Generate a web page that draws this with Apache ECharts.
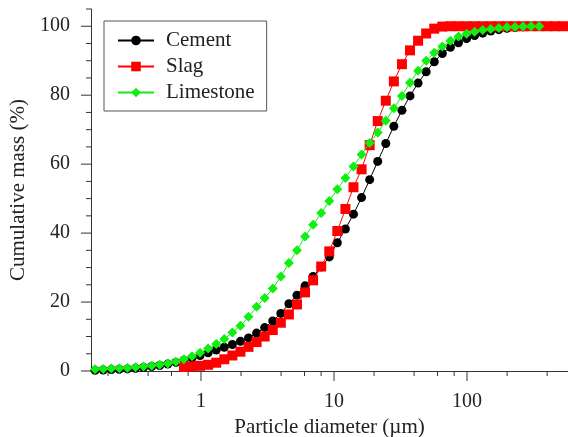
<!DOCTYPE html>
<html>
<head>
<meta charset="utf-8">
<script src="https://cdn.jsdelivr.net/npm/echarts@6/dist/echarts.min.js"></script>
<style>
html,body{margin:0;padding:0;background:#fff;}
#chart{width:568px;height:437px;}
</style>
</head>
<body>
<div id="chart"></div>
<script>
// Particle diameters (µm)
var diameters = [0.160,0.184,0.212,0.243,0.280,0.322,0.370,0.426,0.489,0.563,
  0.647,0.744,0.856,0.984,1.132,1.302,1.497,1.722,1.980,2.277,
  2.619,3.011,3.463,3.983,4.580,5.267,6.057,6.966,8.011,9.212,
  10.59,12.18,14.01,16.11,18.53,21.31,24.51,28.18,32.41,37.27,
  42.86,49.29,56.69,65.19,74.97,86.21,99.14,114.0,131.1,150.8,
  173.4,199.4,229.4,263.8,303.3,348.8,401.2,461.4,530.6,610.2];

// Cumulative mass (%)
var cement = [0.2,0.3,0.4,0.5,0.6,0.8,1.0,1.3,1.6,2.0,
  2.5,3.1,3.8,4.5,5.3,6.1,6.9,7.7,8.6,9.6,
  11.0,12.6,14.5,16.7,19.5,22.0,24.7,27.4,30.2,33.1,
  37.2,41.2,45.5,50.3,55.5,60.8,66.0,71.0,75.6,79.8,
  83.5,86.8,89.7,92.1,93.9,95.2,96.4,97.3,98.0,98.6,
  99.0,99.4,99.6,99.8,99.9,100];

var slag = [null,null,null,null,null,null,null,null,null,null,
  null,1.2,1.3,1.5,1.8,2.4,3.4,4.5,5.6,7.0,
  8.4,10.0,11.9,14.0,16.4,19.3,22.8,26.3,30.3,34.7,
  40.6,47.0,53.3,58.5,65.5,72.5,78.4,84.0,89.0,93.0,
  95.8,97.9,99.3,99.9,100,100,100,100,100,100,
  100,100,100,100,100,100,100,100,100,100];

var limestone = [0.5,0.6,0.7,0.8,0.9,1.1,1.3,1.5,1.8,2.2,
  2.7,3.4,4.3,5.3,6.5,7.8,9.3,11.2,13.1,15.7,
  18.6,21.2,23.9,27.4,31.3,35.0,39.0,42.4,45.8,49.3,
  52.7,56.0,59.3,62.8,66.1,69.2,72.6,76.2,79.8,83.6,
  87.1,90.0,92.3,94.1,95.8,97.0,97.8,98.4,98.9,99.2,
  99.5,99.7,99.8,99.9,100,100];

var seriesNames = ['Cement', 'Slag', 'Limestone'];

// Axis ticks
var xMajorTicks = [1, 10, 100];
var xMinorTicks = [0.2,0.4,0.6,0.8,2,4,6,8,20,40,60,80,200,400];
var yMajorTicks = [0,20,40,60,80,100];
var yMinorTicks = [5,10,15,25,30,35,45,50,55,65,70,75,85,90,95,105];

var xMin = 0.149, xMax = 574;
var yMin = 0, yMax = 105;

var FONT = '"Liberation Serif", "Times New Roman", serif';
var AX = '#333';

function pairs(vals) {
  var out = [];
  for (var i = 0; i < vals.length; i++) {
    if (vals[i] !== null && vals[i] !== undefined) out.push([diameters[i], vals[i]]);
  }
  return out;
}

function tickSeries(values, dir, len) {
  return {
    type: 'custom',
    silent: true,
    z: 1,
    clip: false,
    data: values.map(function (v) { return dir === 'x' ? [v, yMin] : [xMin, v]; }),
    renderItem: function (params, api) {
      var p = api.coord([api.value(0), api.value(1)]);
      var shape = dir === 'x'
        ? { x1: p[0], y1: p[1], x2: p[0], y2: p[1] + len }
        : { x1: p[0] - len, y1: p[1], x2: p[0], y2: p[1] };
      return { type: 'line', shape: shape, style: { stroke: AX, lineWidth: 1 } };
    }
  };
}

var chart = echarts.init(document.getElementById('chart'), null, { renderer: 'canvas' });
chart.setOption({
  animation: false,
  backgroundColor: '#fff',
  textStyle: { fontFamily: FONT },
  grid: { left: 91, right: 0, top: 9, bottom: 66, containLabel: false, outerBoundsMode: 'none' },
  legend: {
    data: seriesNames,
    orient: 'vertical',
    left: 104,
    top: 21,
    itemWidth: 36,
    itemHeight: 12,
    itemGap: 5,
    padding: [9, 12, 8, 13],
    borderColor: '#555',
    borderWidth: 1,
    textStyle: { fontFamily: FONT, fontSize: 21, color: '#222', lineHeight: 20, padding: [0, 0, 0, 7] }
  },
  xAxis: {
    type: 'log',
    logBase: 10,
    min: xMin,
    max: xMax,
    name: 'Particle diameter (\u00b5m)',
    nameLocation: 'middle',
    nameGap: 40,
    nameTextStyle: { fontFamily: FONT, fontSize: 21, color: '#222' },
    axisLine: { lineStyle: { color: AX, width: 1 } },
    axisTick: { show: false },
    splitLine: { show: false },
    axisLabel: {
      fontFamily: FONT, fontSize: 20, color: '#222', margin: 21,
      formatter: function (v) {
        var l = Math.log10(v);
        return Math.abs(l - Math.round(l)) < 1e-6 ? String(Math.round(Math.pow(10, Math.round(l)))) : '';
      }
    }
  },
  yAxis: {
    type: 'value',
    min: yMin,
    max: yMax,
    interval: 20,
    name: 'Cumulative mass (%)',
    nameLocation: 'middle',
    nameGap: 50,
    nameTextStyle: { fontFamily: FONT, fontSize: 21, color: '#222' },
    axisLine: { show: true, lineStyle: { color: AX, width: 1 } },
    axisTick: { show: false },
    splitLine: { show: false },
    axisLabel: {
      fontFamily: FONT, fontSize: 20, color: '#222', margin: 21,
      formatter: function (v) { return v % 20 === 0 ? String(v) : ''; }
    }
  },
  series: [
    {
      name: 'Cement', type: 'line', data: pairs(cement),
      symbol: 'circle', symbolSize: 9, z: 2,
      itemStyle: { color: '#000' },
      lineStyle: { color: '#000', width: 1 }
    },
    {
      name: 'Slag', type: 'line', data: pairs(slag),
      symbol: 'rect', symbolSize: 10, z: 3,
      itemStyle: { color: '#ff0000' },
      lineStyle: { color: '#ff0000', width: 1 }
    },
    {
      name: 'Limestone', type: 'line', data: pairs(limestone),
      symbol: 'diamond', symbolSize: 10, z: 4,
      itemStyle: { color: '#11ee11' },
      lineStyle: { color: '#11ee11', width: 1 }
    },
    tickSeries(xMajorTicks, 'x', 10),
    tickSeries(xMinorTicks, 'x', 5),
    tickSeries(yMajorTicks, 'y', 10),
    tickSeries(yMinorTicks, 'y', 5)
  ]
});
</script>
</body>
</html>
